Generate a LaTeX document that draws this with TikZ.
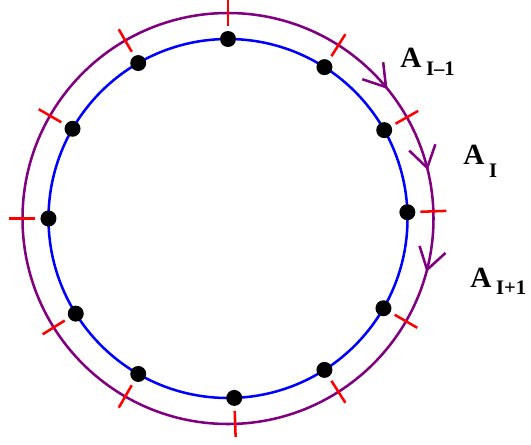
\documentclass[tikz,border=0pt]{standalone}
\usepackage{fontspec}
\setmainfont{Liberation Serif}
\usetikzlibrary{arrows.meta,decorations.markings}
\definecolor{ringblue}{HTML}{0000FF}
\definecolor{ringpurple}{HTML}{800080}
\definecolor{tickred}{HTML}{FF0000}
\newcommand{\albl}[2]{\fontsize{22}{26}\selectfont A\kern3.5pt\raisebox{-#1}{\fontsize{15.5}{18}\selectfont #2}}

\begin{document}
\begin{tikzpicture}[
  x=0.75pt, y=0.75pt,
  inner/.style={draw=ringblue, line width=1.9pt},
  outer/.style={draw=ringpurple, line width=1.9pt},
  cut/.style={draw=tickred, line width=1.9pt},
  site/.style={circle, fill=black, inner sep=0pt, minimum size=12pt},
  flow/.style={postaction=decorate, decoration={markings,
      mark=at position 0.1414 with {\arrow{Straight Barb[length=15.8pt, width=20.2pt, color=ringpurple]}},
      mark=at position 0.2122 with {\arrow{Straight Barb[length=15.8pt, width=20.2pt, color=ringpurple]}},
      mark=at position 0.2919 with {\arrow{Straight Barb[length=15.8pt, width=20.2pt, color=ringpurple]}}}},
  lbl/.style={anchor=base west, inner sep=0pt, font=\bfseries}
]
  \useasboundingbox (-228,-225.5) rectangle (303,218.5);
  \coordinate (O) at (0,0);

  \draw[inner] (O) circle[radius=179.5];
  \draw[outer, flow] (90:205.5) arc[start angle=90, end angle=-270, radius=205.5];

  \foreach \ang [count=\k] in {90,120,150,180,212,240,272,302.5,330,2,29.5,57.5} {
    \node[site] (s\k) at (\ang:179.5) {};
    \draw[cut] (\ang:192.5) -- (\ang:218.5);
  }

  \node[lbl] (prev) at (172,150.8) {\albl{6pt}{I\textendash1}};
  \node[lbl] (curr) at (235,54) {\albl{9.4pt}{I}};
  \node[lbl] (next) at (242,-69) {\albl{5.1pt}{I+1}};
\end{tikzpicture}
\end{document}
